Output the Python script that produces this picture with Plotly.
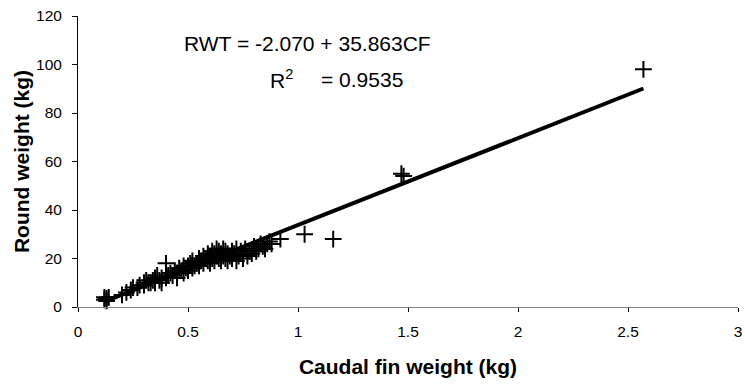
import plotly.graph_objects as go

cf_weight = [0.12, 0.12, 0.13, 0.13, 0.14, 0.20, 0.22, 0.24, 0.25, 0.27, 0.28, 0.30, 0.30, 0.31, 0.32,
             0.33, 0.34, 0.35, 0.35, 0.36, 0.37, 0.38, 0.38, 0.40, 0.40, 0.41, 0.42, 0.43, 0.44, 0.45,
             0.45, 0.46, 0.47, 0.48, 0.48, 0.49, 0.50, 0.50, 0.51, 0.52, 0.52, 0.53, 0.54, 0.55, 0.55,
             0.56, 0.57, 0.57, 0.58, 0.59, 0.59, 0.60, 0.60, 0.61, 0.61, 0.62, 0.62, 0.63, 0.63, 0.64,
             0.64, 0.65, 0.65, 0.66, 0.66, 0.67, 0.67, 0.68, 0.68, 0.69, 0.70, 0.70, 0.71, 0.72, 0.72,
             0.73, 0.74, 0.75, 0.75, 0.76, 0.77, 0.78, 0.79, 0.80, 0.81, 0.82, 0.83, 0.84, 0.85, 0.86,
             0.87, 0.88, 0.92, 1.03, 1.16, 1.47, 1.48, 2.57]
round_weight = [3, 4, 3.5, 2.5, 4, 5, 6, 7, 8, 8, 9, 9, 10, 11, 10,
                10, 11, 12, 10, 13, 11, 12, 10, 12, 18, 13, 14, 13, 15, 14,
                12, 16, 15, 17, 14, 16, 17, 15, 18, 16, 19, 17, 18, 20, 17,
                19, 21, 18, 20, 22, 19, 21, 18, 23, 20, 22, 19, 24, 21, 20,
                23, 22, 19, 21, 24, 20, 23, 22, 19, 21, 23, 20, 22, 19, 24,
                21, 23, 20, 22, 24, 21, 23, 22, 25, 23, 24, 26, 25, 24, 26,
                27, 26, 28, 30, 28, 55, 54, 98]

x_ticks = [0, 0.5, 1, 1.5, 2, 2.5, 3]
x_tick_labels = ["0", "0.5", "1", "1.5", "2", "2.5", "3"]
y_ticks = [0, 20, 40, 60, 80, 100, 120]

fit_x = [0.12, 2.57]
intercept = -2.070
slope = 35.863
fit_y = [intercept + slope * v for v in fit_x]

FONT = "Arial, Liberation Sans, sans-serif"

fig = go.Figure()
fig.add_trace(go.Scatter(
    x=cf_weight, y=round_weight, mode="markers",
    marker=dict(symbol="cross-thin", size=12, color="black",
                line=dict(color="black", width=2)),
    showlegend=False, cliponaxis=False))
fig.add_trace(go.Scatter(
    x=fit_x, y=fit_y, mode="lines",
    line=dict(color="black", width=4), showlegend=False))

fig.add_annotation(x=0.473, y=108.5, xref="x", yref="y", xanchor="left",
                   text="RWT = -2.070 + 35.863CF",
                   showarrow=False, font=dict(family=FONT, size=21, color="black"))
fig.add_annotation(x=0.864, y=94, xref="x", yref="y", xanchor="left",
                   text="R<sup>2</sup>",
                   showarrow=False, font=dict(family=FONT, size=21, color="black"))
fig.add_annotation(x=1.486, y=94, xref="x", yref="y", xanchor="right",
                   text="= 0.9535",
                   showarrow=False, font=dict(family=FONT, size=21, color="black"))

fig.update_layout(
    width=745, height=385,
    margin=dict(l=78, r=7, t=16, b=78),
    paper_bgcolor="white", plot_bgcolor="white",
    font=dict(family=FONT, size=15.5, color="black"),
    xaxis=dict(range=[0, 3], tickvals=x_ticks, ticktext=x_tick_labels,
               showgrid=False, zeroline=False, automargin=False,
               showline=True, linecolor="#808080", linewidth=1,
               ticks="outside", ticklen=4, tickcolor="black",
               ticklabeloverflow="allow", ticklabelstandoff=6,
               title=dict(text="<b>Caudal fin weight (kg)</b>", font=dict(size=21), standoff=20)),
    yaxis=dict(range=[0, 120], tickvals=y_ticks,
               showgrid=False, zeroline=False, automargin=False,
               showline=True, linecolor="black", linewidth=1,
               ticks="outside", ticklen=5, tickcolor="black",
               ticklabelstandoff=7,
               title=dict(text="<b>Round weight (kg)</b>", font=dict(size=21), standoff=0)),
)

fig.write_html("out.html", config={"displayModeBar": False},
               post_script="document.body.style.margin='0';document.body.style.padding='0';")
